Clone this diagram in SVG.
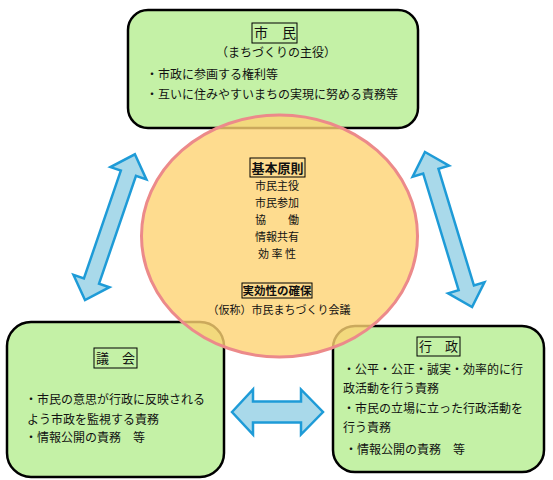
<svg xmlns="http://www.w3.org/2000/svg" width="553" height="480" viewBox="0 0 553 480">
<style>
.box{fill:#c4f1a6;stroke:#000;stroke-width:2.5}
.t{font-family:"Noto Sans CJK JP","Noto Sans",sans-serif;fill:#111}
.lab{fill:none;stroke:#000;stroke-width:1}
.arr{fill:#a9d9ea;stroke:#1e9bd7;stroke-width:2.5;stroke-linejoin:miter}
</style>
<rect width="553" height="480" fill="#fff"/>
<g id="shimin">
<rect class="box" x="128" y="10" width="290" height="118" rx="20"/>
<rect class="lab" x="252" y="23" width="45" height="20"/>
<text class="t" x="275" y="38" font-size="14" text-anchor="middle">市　民</text>
<text class="t" x="276" y="57" font-size="12" text-anchor="middle">（まちづくりの主役）</text>
<text class="t" x="146" y="79" font-size="12">・市政に参画する権利等</text>
<text class="t" x="146" y="99" font-size="12">・互いに住みやすいまちの実現に努める責務等</text>
</g>
<g id="gikai">
<rect class="box" x="7" y="322" width="217" height="155" rx="24"/>
<rect class="lab" x="94" y="348" width="43" height="20"/>
<text class="t" x="115.500" y="363" font-size="13" text-anchor="middle">議　会</text>
<text class="t" x="25" y="404" font-size="12">・市民の意思が行政に反映される</text>
<text class="t" x="27" y="424" font-size="12">よう市政を監視する責務</text>
<text class="t" x="25" y="442" font-size="12">・情報公開の責務　等</text>
</g>
<g id="gyosei">
<rect class="box" x="333" y="326" width="211" height="146" rx="22"/>
<rect class="lab" x="417" y="337" width="43" height="19"/>
<text class="t" x="438.500" y="351" font-size="13" text-anchor="middle">行　政</text>
<text class="t" x="343" y="374" font-size="12">・公平・公正・誠実・効率的に行</text>
<text class="t" x="343" y="393" font-size="12">政活動を行う責務</text>
<text class="t" x="343" y="413" font-size="12">・市民の立場に立った行政活動を</text>
<text class="t" x="343" y="432" font-size="12">行う責務</text>
<text class="t" x="345" y="454" font-size="12">・情報公開の責務　等</text>
</g>
<g id="principles">
<ellipse cx="279.500" cy="236" rx="138" ry="121" fill="#fed373" fill-opacity="0.8" stroke="#ec8a8a" stroke-width="3"/>
<rect class="lab" x="250" y="158" width="55" height="19"/>
<text class="t" x="277.500" y="172.500" font-size="13" font-weight="bold" text-anchor="middle">基本原則</text>
<text class="t" x="277" y="190" font-size="11" text-anchor="middle">市民主役</text>
<text class="t" x="277" y="207" font-size="11" text-anchor="middle">市民参加</text>
<text class="t" x="277" y="224" font-size="11" text-anchor="middle">協　　働</text>
<text class="t" x="277" y="241" font-size="11" text-anchor="middle">情報共有</text>
<text class="t" x="277" y="258" font-size="11" text-anchor="middle">効 率 性</text>
<rect class="lab" x="242" y="283" width="70" height="15"/>
<text class="t" x="277" y="294.500" font-size="11.500" font-weight="bold" text-anchor="middle">実効性の確保</text>
<text class="t" x="279" y="314" font-size="11" text-anchor="middle">（仮称）市民まちづくり会議</text>
</g>
<g id="connectors">
<path class="arr" transform="translate(85,300) rotate(-71.1)" d="M0,0 L20,-19 L20,-8 L134,-8 L134,-19 L154,0 L134,19 L134,8 L20,8 L20,19 Z"/>
<path class="arr" transform="translate(425,152) rotate(73.1)" d="M0,0 L20,-19 L20,-8 L142,-8 L142,-19 L162,0 L142,19 L142,8 L20,8 L20,19 Z"/>
<path class="arr" transform="translate(232,412)" d="M0,0 L21,-22.500 L21,-10.500 L69,-10.500 L69,-22.500 L91,0 L69,22.500 L69,10.500 L21,10.500 L21,22.500 Z"/>
</g>
</svg>
